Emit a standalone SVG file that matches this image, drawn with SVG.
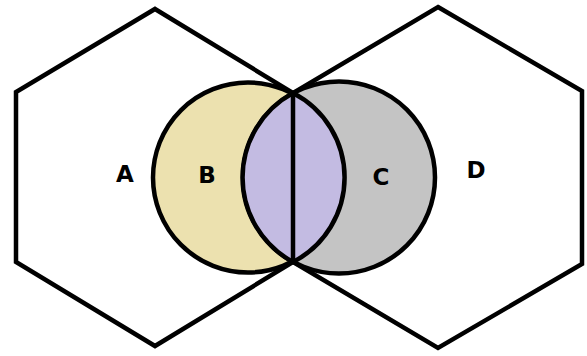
<svg xmlns="http://www.w3.org/2000/svg" width="587" height="356" viewBox="0 0 587 356">
<style>
.hex{fill:none;stroke:#000;stroke-width:4.5;stroke-linejoin:miter}
.c{stroke:#000;stroke-width:4.5}
.lbl{font-family:"DejaVu Sans","Liberation Sans",sans-serif;font-weight:bold;font-size:23px;fill:#000;text-anchor:middle}
</style>
<rect width="587" height="356" fill="#fff"/>
<g id="hexA">
<polygon class="hex" points="155,9 293,93 293,262 155,346 16,262 16,92"/>
<text class="lbl" x="125" y="182">A</text>
</g>
<g id="hexD">
<polygon class="hex" points="438,7 582,91 582,264 438,348 293,262 293,93"/>
<text class="lbl" x="476" y="178">D</text>
</g>
<g id="circleB">
<circle class="c" cx="248" cy="177.5" r="95" fill="#ECE1AF"/>
<text class="lbl" x="207" y="183">B</text>
</g>
<g id="circleC">
<circle class="c" cx="339" cy="177.5" r="96" fill="#C4C4C4"/>
<text class="lbl" x="381" y="185">C</text>
</g>
<g id="lens">
<path d="M293,93 A96,96 0 0,0 293,262 A95,95 0 0,0 293,93 Z" fill="#C3BBE2" stroke="#000" stroke-width="4.5"/>
</g>
<g id="connectors">
<line x1="293" y1="93" x2="293" y2="262" stroke="#000" stroke-width="4.5"/>
</g>
</svg>
